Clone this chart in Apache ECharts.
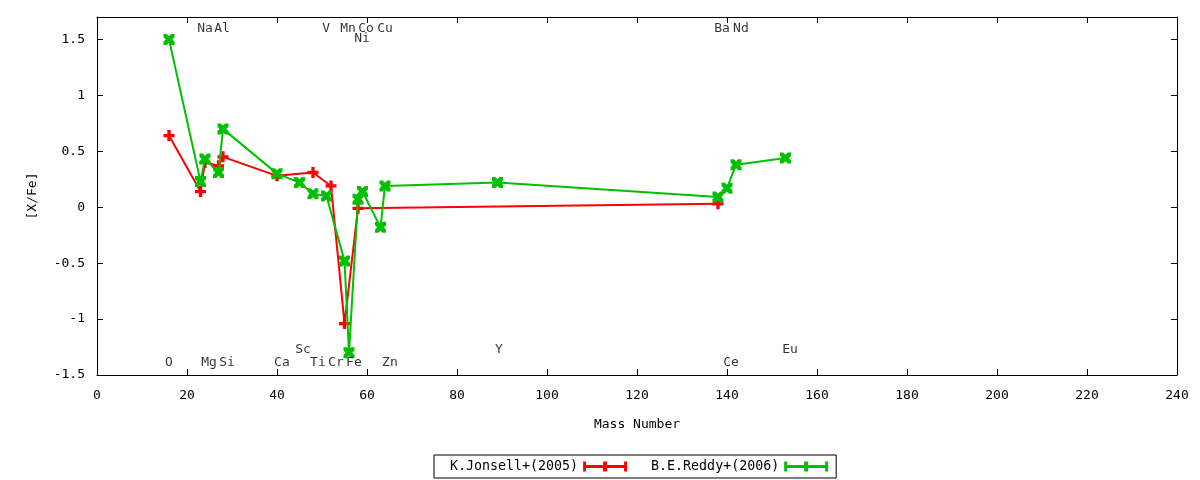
<!DOCTYPE html>
<html>
<head>
<meta charset="utf-8">
<script src="https://cdn.jsdelivr.net/npm/echarts@6/dist/echarts.min.js"></script>
<style>
    html, body { margin: 0; padding: 0; background: #fff; }
    #chart { width: 1200px; height: 480px; }
</style>
</head>
<body>
<div id="chart"></div>
<script>
// K.Jonsell+(2005)
var jonsellMass = [16, 23, 24, 27, 28, 40, 48, 52, 55, 58, 138];
var jonsellXFe = [0.64, 0.14, 0.40, 0.37, 0.45, 0.28, 0.31, 0.19, -1.04, -0.01, 0.03];
// B.E.Reddy+(2006)
var reddyMass = [16, 23, 24, 27, 28, 40, 45, 48, 51, 55, 56, 58, 59, 63, 64, 89, 138, 140, 142, 153];
var reddyXFe = [1.50, 0.23, 0.43, 0.31, 0.70, 0.30, 0.22, 0.12, 0.10, -0.48, -1.30, 0.07, 0.14, -0.18, 0.19, 0.22, 0.09, 0.17, 0.38, 0.44];
// element labels
var elemNames = ['Na', 'Al', 'V', 'Mn', 'Co', 'Cu', 'Ba', 'Nd', 'Ni', 'O', 'Mg', 'Si', 'Ca', 'Ti', 'Cr', 'Fe', 'Zn', 'Ce', 'Sc', 'Y', 'Eu'];
var elemX = [24, 27.8, 50.9, 55.8, 59.8, 64, 138.9, 143.1, 58.9, 16, 24.9, 28.9, 41.1, 49.1, 53.1, 57.1, 65.1, 140.9, 45.8, 89.3, 154];
var elemY = [1.60, 1.60, 1.60, 1.60, 1.60, 1.60, 1.60, 1.60, 1.51, -1.39, -1.39, -1.39, -1.39, -1.39, -1.39, -1.39, -1.39, -1.39, -1.27, -1.27, -1.27];

var FONT = 'DejaVu Sans Mono';
var plusPath = 'path://M3.5,0 L6.5,0 L6.5,3.5 L10,3.5 L10,6.5 L6.5,6.5 L6.5,10 L3.5,10 L3.5,6.5 L0,6.5 L0,3.5 L3.5,3.5 Z';
var xboxPath = 'path://M0,0 L3,0 L5,2 L7,0 L10,0 L10,3 L8,5 L10,7 L10,10 L7,10 L5,8 L3,10 L0,10 L0,7 L2,5 L0,3 Z';
var barPath = 'path://M0,0 H3 V3.5 H20 V0 H24 V3.5 H41 V0 H44 V10 H41 V6.5 H24 V10 H20 V6.5 H3 V10 H0 Z';

function pairs(xs, ys) {
    return xs.map(function (x, i) { return [x, ys[i]]; });
}

var labelData = elemNames.map(function (n, i) {
    return [elemX[i], elemY[i], n];
});

var chart = echarts.init(document.getElementById('chart'));

var axisCommon = {
    axisLine: { show: true, onZero: false, lineStyle: { color: '#000', width: 1 } },
    axisTick: { show: true, inside: true, length: 6, lineStyle: { color: '#000' } },
    splitLine: { show: false }
};

var option = {
    animation: false,
    textStyle: { fontFamily: FONT, color: '#000' },
    grid: { left: 97, right: 23, top: 17, bottom: 105 },
    legend: {
        left: 434,
        top: 455,
        align: 'right',
        itemWidth: 44,
        itemHeight: 10,
        itemGap: 24,
        padding: [5, 8, 5, 16],
        borderColor: '#000',
        borderWidth: 1,
        textStyle: { fontFamily: FONT, fontSize: 13.3, color: '#000' },
        data: [
            { name: 'K.Jonsell+(2005)', icon: barPath },
            { name: 'B.E.Reddy+(2006)', icon: barPath }
        ]
    },
    xAxis: [
        Object.assign({
            type: 'value', min: 0, max: 240, interval: 20, position: 'bottom',
            name: 'Mass Number', nameLocation: 'middle', nameGap: 43,
            nameTextStyle: { fontFamily: FONT, fontSize: 13, color: '#000' },
            axisLabel: { fontFamily: FONT, fontSize: 13, color: '#000', margin: 14 }
        }, axisCommon),
        Object.assign({
            type: 'value', min: 0, max: 240, interval: 20, position: 'top',
            axisLabel: { show: false }
        }, axisCommon)
    ],
    yAxis: [
        Object.assign({
            type: 'value', min: -1.5, max: 1.7, interval: 0.5, position: 'left',
            name: '[X/Fe]', nameLocation: 'middle', nameGap: 58, nameRotate: 90,
            nameTextStyle: { fontFamily: FONT, fontSize: 13, color: '#000' },
            axisLabel: { fontFamily: FONT, fontSize: 13, color: '#000', margin: 12, showMaxLabel: false }
        }, axisCommon),
        Object.assign({
            type: 'value', min: -1.5, max: 1.7, interval: 0.5, position: 'right',
            axisLabel: { show: false }
        }, axisCommon)
    ],
    series: [
        {
            name: 'K.Jonsell+(2005)',
            type: 'line',
            xAxisIndex: 0,
            yAxisIndex: 0,
            data: pairs(jonsellMass, jonsellXFe),
            symbol: plusPath,
            symbolSize: 11,
            showAllSymbol: true,
            color: '#ff0000',
            lineStyle: { color: '#ff0000', width: 2 },
            itemStyle: { color: '#ff0000' },
            z: 3
        },
        {
            name: 'B.E.Reddy+(2006)',
            type: 'line',
            xAxisIndex: 0,
            yAxisIndex: 0,
            data: pairs(reddyMass, reddyXFe),
            symbol: xboxPath,
            symbolSize: 11,
            showAllSymbol: true,
            color: '#00c000',
            lineStyle: { color: '#00c000', width: 2 },
            itemStyle: { color: '#00c000' },
            z: 4
        },
        {
            name: 'elements',
            type: 'scatter',
            xAxisIndex: 0,
            yAxisIndex: 0,
            data: labelData,
            symbolSize: 0,
            silent: true,
            label: {
                show: true,
                position: 'inside',
                fontFamily: FONT,
                fontSize: 13,
                color: '#000',
                formatter: function (p) { return p.value[2]; }
            },
            z: 5
        }
    ]
};
chart.setOption(option);
</script>
</body>
</html>
